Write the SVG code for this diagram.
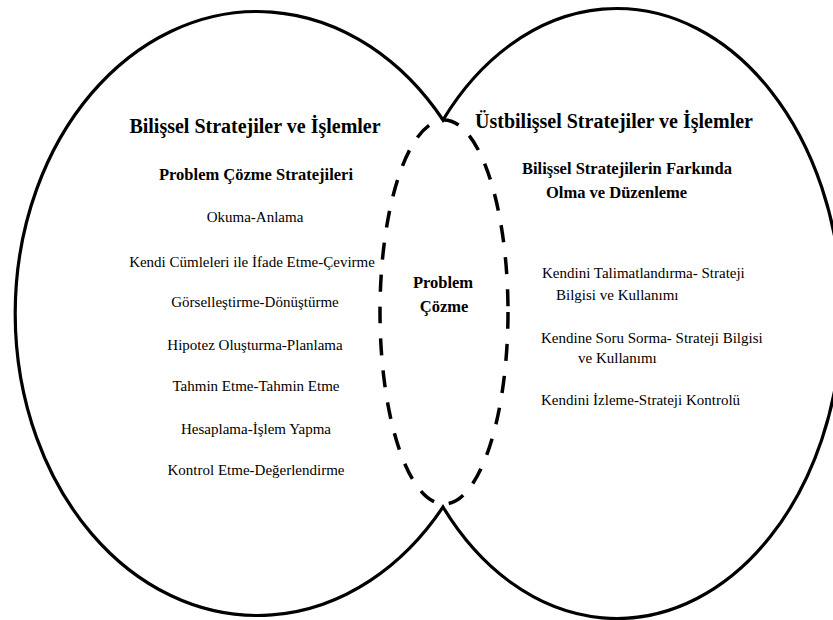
<svg xmlns="http://www.w3.org/2000/svg" width="833" height="620" viewBox="0 0 833 620">
<style>
  .t { font-family: "Liberation Serif", "DejaVu Serif", serif; fill: #000; }
  .h1 { font-size: 20px; font-weight: bold; }
  .h2 { font-size: 16.5px; font-weight: bold; }
  .b { font-size: 15px; }
  .outline { fill: none; stroke: #000; stroke-width: 3.2; stroke-linejoin: miter; }
  .dash { fill: none; stroke: #000; stroke-width: 3.5; stroke-dasharray: 17 15; }
</style>
<rect width="833" height="620" fill="#fff"/>
<g id="outline">
  <path class="outline" d="M 443 120 A 242 302 0 1 0 443 507 A 225 305 0 1 0 443 120 Z"/>
</g>
<g id="connectors"></g>
<g id="cognitive" font-family="Liberation Serif, serif">
  <text class="t h1" x="255" y="133" text-anchor="middle">Bilişsel Stratejiler ve İşlemler</text>
  <text class="t h2" x="256" y="180" text-anchor="middle">Problem Çözme Stratejileri</text>
  <text class="t b" x="255" y="222" text-anchor="middle">Okuma-Anlama</text>
  <text class="t b" x="252" y="267" text-anchor="middle">Kendi Cümleleri ile İfade Etme-Çevirme</text>
  <text class="t b" x="255" y="307" text-anchor="middle">Görselleştirme-Dönüştürme</text>
  <text class="t b" x="255" y="350" text-anchor="middle">Hipotez Oluşturma-Planlama</text>
  <text class="t b" x="256" y="391" text-anchor="middle">Tahmin Etme-Tahmin Etme</text>
  <text class="t b" x="256" y="434" text-anchor="middle">Hesaplama-İşlem Yapma</text>
  <text class="t b" x="256" y="475" text-anchor="middle">Kontrol Etme-Değerlendirme</text>
</g>
<g id="metacognitive" font-family="Liberation Serif, serif">
  <text class="t h1" x="614" y="128" text-anchor="middle">Üstbilişsel Stratejiler ve İşlemler</text>
  <text class="t h2" x="522" y="174">Bilişsel Stratejilerin Farkında</text>
  <text class="t h2" x="546" y="198">Olma ve Düzenleme</text>
  <text class="t b" x="542" y="278">Kendini Talimatlandırma- Strateji</text>
  <text class="t b" x="556" y="300">Bilgisi ve Kullanımı</text>
  <text class="t b" x="541" y="343">Kendine Soru Sorma- Strateji Bilgisi</text>
  <text class="t b" x="578" y="363">ve Kullanımı</text>
  <text class="t b" x="541" y="405">Kendini İzleme-Strateji Kontrolü</text>
</g>
<g id="problem-solving" font-family="Liberation Serif, serif">
  <ellipse class="dash" cx="444" cy="312" rx="64" ry="192"/>
  <text class="t h2" x="443" y="288" text-anchor="middle">Problem</text>
  <text class="t h2" x="444" y="312" text-anchor="middle">Çözme</text>
</g>
</svg>
